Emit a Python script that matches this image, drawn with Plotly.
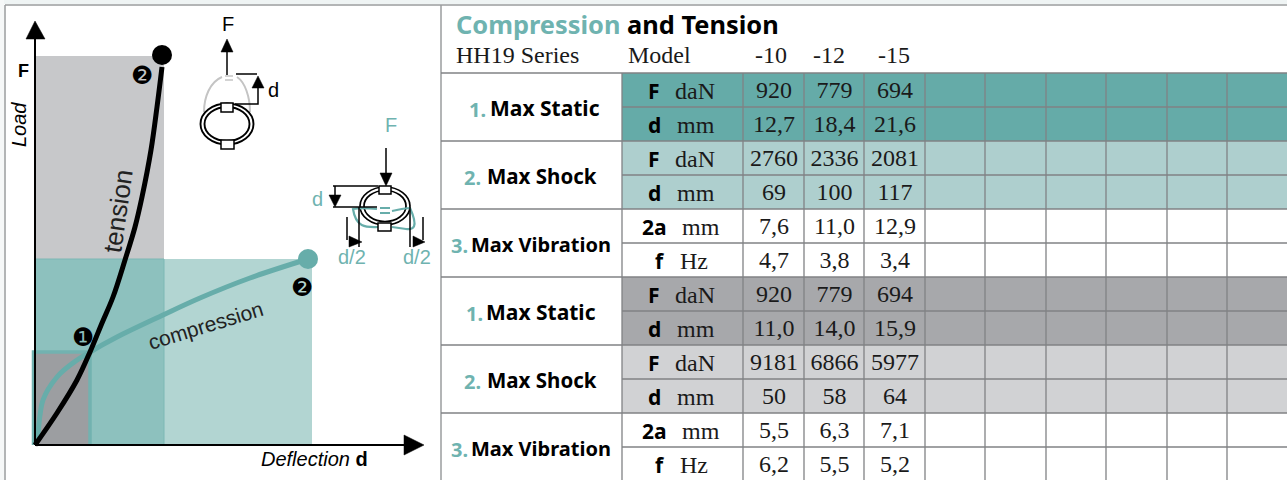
import plotly.graph_objects as go

# ---------- DATA ----------
# Left chart: deflection / load, measured from the origin of the axes
tension_d = [0, 22, 42, 55, 67, 78, 90, 100, 107, 116, 122, 127]
tension_F = [0, 32, 65, 93, 122, 148, 185, 218, 248, 295, 338, 378]
compression_d = [0, 2, 8, 22, 38, 55, 82, 128, 165, 215, 273]
compression_F = [0, 5, 45, 68, 82, 93, 108, 130, 147, 167, 186]
static_d, static_F = 55, 93
shock_tension_d, shock_tension_F = 129, 389
shock_compression_d, shock_compression_F = 277, 186

# Table
title_parts = ["Compression", "and Tension"]
series_name = "HH19 Series"
model_header = "Model"
models = ["-10", "-12", "-15"]
group_labels = ["Max Static", "Max Shock", "Max Vibration"] * 2
group_numbers = ["1.", "2.", "3."] * 2
row_symbols = ["F", "d", "F", "d", "2a", "f", "F", "d", "F", "d", "2a", "f"]
row_units = ["daN", "mm", "daN", "mm", "mm", "Hz", "daN", "mm", "daN", "mm", "mm", "Hz"]
model_10 = ["920", "12,7", "2760", "69", "7,6", "4,7", "920", "11,0", "9181", "50", "5,5", "6,2"]
model_12 = ["779", "18,4", "2336", "100", "11,0", "3,8", "779", "14,0", "6866", "58", "6,3", "5,5"]
model_15 = ["694", "21,6", "2081", "117", "12,9", "3,4", "694", "15,9", "5977", "64", "7,1", "5,2"]

# ---------- STYLE / LAYOUT ----------
W, H = 1287, 480
TEAL = "#67adaa"
TEAL_TXT = "#6fb3b0"
GRID = "#808284"
ROW_FILL = ["#65aba8", "#65aba8", "#aecfce", "#aecfce", "#ffffff", "#ffffff",
            "#a7a8ab", "#a7a8ab", "#d1d2d4", "#d1d2d4", "#ffffff", "#ffffff"]
COL_EDGES = [441, 622, 743, 804, 864, 925, 985, 1046, 1106, 1167, 1227, 1288]
ROW_EDGES = [73, 107, 141, 175, 209, 243, 277, 311, 345, 379, 413, 447, 481]
MODEL_X = [770.5, 829, 893.5]
NAME_X = [544.5, 542, 541, 541, 542, 541]
NAME_SIZE = [21, 20.5, 20, 21, 20.5, 20]
NUM_X = [477.5, 472.5, 459.5, 474, 472.5, 459.5]
SERIF = "Liberation Serif"
SANS = "Liberation Sans"
BOLD = "Noto Sans"

OX, OY = 35, 445  # origin of left chart in page pixels


def X(p):
    return p - OX


def Y(p):
    return OY - p


fig = go.Figure()
shapes = []
ann = []


def rect(x0, y0, x1, y1, fill, line=None, lw=0, layer="below", xref="x", yref="y"):
    shapes.append(dict(type="rect", x0=x0, y0=y0, x1=x1, y1=y1, fillcolor=fill,
                       line=dict(color=line or fill, width=lw), layer=layer, xref=xref, yref=yref))


def path(points, color, lw=1.5, fill=None, close=False):
    d = "M " + " L ".join(f"{X(a)} {Y(b)}" for a, b in points) + (" Z" if close else "")
    shapes.append(dict(type="path", path=d, line=dict(color=color, width=lw),
                       fillcolor=fill or "rgba(0,0,0,0)", layer="above", xref="x", yref="y"))


def curve(svg, color, lw=1.5):
    out = []
    for tok in svg:
        if isinstance(tok, str):
            out.append(tok)
        else:
            out.append(f"{X(tok[0])} {Y(tok[1])}")
    shapes.append(dict(type="path", path=" ".join(out), line=dict(color=color, width=lw),
                       layer="above", xref="x", yref="y"))


def ell(cx, cy, rx, ry, color, lw=1.5):
    shapes.append(dict(type="circle", x0=X(cx - rx), x1=X(cx + rx), y0=Y(cy - ry), y1=Y(cy + ry),
                       line=dict(color=color, width=lw), layer="above", xref="x", yref="y"))


def label(x, y, text, size, color="#000000", family=SANS, angle=0, xanchor="center", xref="x", yref="y"):
    ann.append(dict(x=x, y=y, text=text, showarrow=False, textangle=angle, xanchor=xanchor, yanchor="middle",
                    font=dict(size=size, color=color, family=family), xref=xref, yref=yref))


# --- Left chart regions
rect(0, 0, shock_tension_d, shock_tension_F, "#c7c8ca")
rect(0, 0, shock_compression_d, shock_compression_F, "#b2d5d2")
rect(0, 0, shock_tension_d, shock_compression_F, "#8dc1be", "#7db8b5", 1)
rect(-1, 0, static_d, static_F, "#9c9ea1")
shapes.append(dict(type="path", path=f"M -1.5 0 L -1.5 {static_F} L {static_d} {static_F} L {static_d} 0",
                   line=dict(color="#72b2b0", width=3.5), fillcolor="rgba(0,0,0,0)", layer="below",
                   xref="x", yref="y"))

# --- Curves
fig.add_trace(go.Scatter(x=compression_d, y=compression_F, mode="lines", line=dict(color=TEAL, width=5, shape="spline"),
                         xaxis="x", yaxis="y", showlegend=False, hoverinfo="skip"))
fig.add_trace(go.Scatter(x=tension_d, y=tension_F, mode="lines", line=dict(color="#000000", width=5, shape="spline"),
                         xaxis="x", yaxis="y", showlegend=False, hoverinfo="skip"))
fig.add_trace(go.Scatter(x=[compression_d[-1]], y=[compression_F[-1]], mode="markers",
                         marker=dict(color=TEAL, size=20), xaxis="x", yaxis="y", showlegend=False, hoverinfo="skip"))
fig.add_trace(go.Scatter(x=[tension_d[-1]], y=[tension_F[-1] + 12], mode="markers",
                         marker=dict(color="#000000", size=20), xaxis="x", yaxis="y", showlegend=False, hoverinfo="skip"))

# --- Axes arrows
path([(35, 445), (35, 39)], "#000000", 2)
path([(35, 445), (405, 445)], "#000000", 2)
path([(35, 21), (26, 39), (45, 39)], "#000000", 0.5, "#000000", True)
path([(424, 445), (404, 435), (404, 455)], "#000000", 0.5, "#000000", True)

label(X(23), Y(71), "<b>F</b>", 18)
label(X(19), Y(125), "<i>Load</i>", 20, angle=-90)
label(X(314), Y(459), "<i>Deflection</i> <b>d</b>", 20)
label(X(118), Y(211), "tension", 26, color="#222222", angle=-82)
label(X(205), Y(325), "compression", 21, color="#222222", angle=-17)
label(X(82.5), Y(337), "❶", 25, family="DejaVu Sans")
label(X(141.5), Y(75), "❷", 25, family="DejaVu Sans")
label(X(301.5), Y(287), "❷", 25, family="DejaVu Sans")

# --- Tension icon
GREY = "#c4c4c4"
curve(["M", (222, 77), "C", (210, 82), (204, 97), (204, 112), (204, 125), (208, 135), (216, 142)], GREY, 2)
curve(["M", (237, 77), "C", (245, 82), (250, 97), (250, 112), (250, 125), (246, 135), (238, 142)], GREY, 2)
path([(225, 76), (233, 76)], GREY, 1.5)
path([(225, 80), (233, 80)], GREY, 1.5)
ell(227, 124, 26.5, 20.5, "#000000", 1.9)
ell(227, 124, 22.5, 17, "#000000", 1.9)
path([(221, 103), (233, 103), (233, 112), (221, 112)], "#000000", 1.5, "#ffffff", True)
path([(221, 140), (234, 140), (234, 149), (221, 149)], "#000000", 1.5, "#ffffff", True)
path([(227, 75), (227, 50)], "#000000", 1.5)
path([(227, 39), (221, 52), (233, 52)], "#000000", 0.5, "#000000", True)
path([(236, 74), (257, 74)], "#000000", 1.5)
path([(235, 104), (258, 104), (258, 88)], "#000000", 1.5)
path([(258, 76), (252, 88), (264, 88)], "#000000", 0.5, "#000000", True)
label(X(228), Y(24), "F", 20)
label(X(273), Y(90), "d", 20)

# --- Compression icon
ell(385, 206, 25, 19, "#000000", 1.7)
ell(385, 206, 21, 15.5, "#000000", 1.7)
curve(["M", (377, 209), "C", (368, 208), (358, 208), (353, 209), (349, 212), (348, 221), (352, 225),
       "C", (356, 229), (368, 227), (378, 227)], TEAL, 2.2)
curve(["M", (392, 211), "C", (398, 210), (404, 208), (410, 208), (416, 208), (421, 216), (420, 222),
       "C", (419, 228), (413, 230), (406, 229), "L", (392, 227)], TEAL, 2.2)
path([(380, 208), (390, 208)], TEAL, 2)
path([(380, 213), (390, 213)], TEAL, 2)
path([(379, 186), (391, 186), (391, 194), (379, 194)], "#000000", 1.5, "#ffffff", True)
path([(378, 223), (391, 223), (391, 231), (378, 231)], "#000000", 1.5, "#ffffff", True)
path([(386, 148), (386, 176)], "#000000", 1.5)
path([(386, 186), (380, 173), (392, 173)], "#000000", 0.5, "#000000", True)
path([(333, 186), (378, 186)], "#000000", 1.5)
path([(333, 207), (377, 207)], "#000000", 1.5)
path([(335, 186), (335, 197)], "#000000", 1.5)
path([(335, 207), (329, 195), (341, 195)], "#000000", 0.5, "#000000", True)
path([(359, 207), (359, 247)], "#000000", 1.5)
path([(347, 217), (347, 240)], "#000000", 1.5)
path([(362, 242), (349, 236), (349, 247)], "#000000", 0.5, "#000000", True)
path([(410, 207), (410, 247)], "#000000", 1.5)
path([(423, 217), (423, 240)], "#000000", 1.5)
path([(425, 242), (413, 236), (413, 247)], "#000000", 0.5, "#000000", True)
label(X(391), Y(125), "F", 20, color=TEAL_TXT)
label(X(317), Y(199), "d", 20, color=TEAL_TXT)
label(X(352), Y(257), "d/2", 20, color=TEAL_TXT)
label(X(417), Y(257), "d/2", 20, color=TEAL_TXT)

# --- Table fills and grid
for r, colour in enumerate(ROW_FILL):
    rect(COL_EDGES[1], ROW_EDGES[r], COL_EDGES[-1], ROW_EDGES[r + 1], colour, xref="x2", yref="y2")
for xe in COL_EDGES[1:-1]:
    shapes.append(dict(type="line", x0=xe, x1=xe, y0=ROW_EDGES[0], y1=481, xref="x2", yref="y2",
                       line=dict(color=GRID, width=1.3), layer="below"))
for i, ye in enumerate(ROW_EDGES[:-1]):
    x_start = COL_EDGES[0] if i % 2 == 0 else COL_EDGES[1]
    shapes.append(dict(type="line", x0=x_start, x1=1288, y0=ye, y1=ye, xref="x2", yref="y2",
                       line=dict(color=GRID, width=1.3), layer="below"))

# --- Frame
shapes.append(dict(type="rect", xref="paper", yref="paper", x0=0, x1=1, y0=1 - 4 / H, y1=1,
                   fillcolor="#eff4f4", line=dict(width=0), layer="below"))
shapes.append(dict(type="rect", xref="paper", yref="paper", x0=0, x1=4 / W, y0=0, y1=1,
                   fillcolor="#f6f8f8", line=dict(width=0), layer="below"))
for a, b, c, d in [(5, 5, 5, 480), (441, 5, 441, 480), (5, 5, 1287, 5)]:
    shapes.append(dict(type="line", xref="paper", yref="paper", x0=a / W, x1=c / W, y0=1 - b / H, y1=1 - d / H,
                       line=dict(color="#9a9c9e", width=1.5), layer="below"))

# --- Table text
label(454, 24, f'<span style="color:{TEAL_TXT}"><b>{title_parts[0]}</b></span> <b>{title_parts[1]}</b>', 25.4,
      family=BOLD, xanchor="left", xref="x2", yref="y2")
label(454, 55, series_name, 24, color="#1a1a1a", family=SERIF, xanchor="left", xref="x2", yref="y2")
label(626, 55, model_header, 24, color="#1a1a1a", family=SERIF, xanchor="left", xref="x2", yref="y2")

col_centers = [(COL_EDGES[i] + COL_EDGES[i + 1]) / 2 + 0.5 for i in (2, 3, 4)]
row_centers = [(ROW_EDGES[i] + ROW_EDGES[i + 1]) / 2 + 1 for i in range(12)]
value_y = [y + 1 for y in row_centers]

for cx, mx, name, vals in zip(col_centers, MODEL_X, models, (model_10, model_12, model_15)):
    label(mx, 55, name, 24, color="#1a1a1a", family=SERIF, xref="x2", yref="y2")
    fig.add_trace(go.Scatter(x=[cx] * len(vals), y=value_y, text=vals, mode="text", textposition="middle center",
                             textfont=dict(family=SERIF, size=24, color="#1a1a1a"), xaxis="x2", yaxis="y2",
                             showlegend=False, hoverinfo="skip"))

SYM_X = {"F": 654, "d": 654.5, "2a": 654, "f": 660}
UNIT_X = {"daN": 673, "mm": 675, "Hz": 678}
for i, (sym, unit) in enumerate(zip(row_symbols, row_units)):
    label(SYM_X[sym], row_centers[i], f"<b>{sym}</b>", 21, family=BOLD, xref="x2", yref="y2")
    ux = 680 if sym == "2a" else UNIT_X[unit]
    label(ux, row_centers[i], unit, 24, color="#1a1a1a", family=SERIF, xanchor="left", xref="x2", yref="y2")

for g, (num, name) in enumerate(zip(group_numbers, group_labels)):
    yc = ROW_EDGES[2 * g + 1]
    label(NUM_X[g], yc + 2, f"<b>{num}</b>", 20, color=TEAL_TXT, family=BOLD, xref="x2", yref="y2")
    label(NAME_X[g], yc + 1, f"<b>{name}</b>", NAME_SIZE[g], family=BOLD, xref="x2", yref="y2")

# --- Axes
fig.update_layout(
    width=W, height=H, margin=dict(l=0, r=0, t=0, b=0), paper_bgcolor="#ffffff", plot_bgcolor="rgba(0,0,0,0)",
    showlegend=False, shapes=shapes, annotations=ann,
    xaxis=dict(domain=[0, 441 / W], range=[-OX, 441 - OX], visible=False, fixedrange=True),
    yaxis=dict(domain=[0, 1], range=[OY - H, OY], visible=False, fixedrange=True),
    xaxis2=dict(domain=[441 / W, 1], range=[441, W], visible=False, anchor="y2", fixedrange=True),
    yaxis2=dict(domain=[0, 1], range=[H, 0], visible=False, anchor="x2", fixedrange=True),
)

fig.write_html("out.html", config={"displayModeBar": False},
               post_script="document.body.style.margin='0';document.body.style.overflow='hidden';")
